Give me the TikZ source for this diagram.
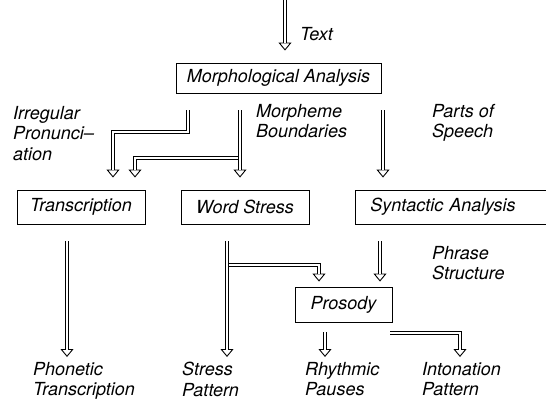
\documentclass[tikz,border=0pt]{standalone}
\usepackage{fontspec}
\setmainfont{TeX Gyre Heros}
\usetikzlibrary{arrows.meta,calc}
\newcommand\darrow[3]{%
  \draw[tipline, shorten <=#1, shorten >=#2] #3;
  \draw[shaft, shorten <=#1, shorten >=#2+7.2pt] #3;}
\begin{document}
\begin{tikzpicture}[x=1pt,y=-1pt,
  box/.style={draw, line width=0.9pt, inner sep=0pt, font=\fontsize{18}{20.5}\selectfont\itshape},
  lbl/.style={anchor=north west, inner sep=0pt, align=left, font=\fontsize{18}{20.5}\selectfont\itshape},
  tipline/.style={draw, line width=0.9pt, -{Triangle[open, length=8pt, width=13pt]}},
  shaft/.style={draw, double, double distance=2.8pt, line width=0.9pt},
]
\useasboundingbox (0,0) rectangle (546,400);
% boxes
\node[box, minimum width=205pt, minimum height=30pt] (morph) at (278.5,78) {Morphological Analysis};
\node[box, minimum width=128pt, minimum height=34pt] (trans) at (81,207) {Transcription};
\node[box, minimum width=128pt, minimum height=34pt] (wst) at (245,207) {Word Stress};
\node[box, anchor=west, text width=190pt, inner xsep=15pt, minimum height=34pt] (synt) at (355,207) {Syntactic Analysis};
\node[box, minimum width=97pt, minimum height=35pt] (pros) at (343.5,304.5) {Prosody};
% labels
\node[lbl] (ltext) at (300,27) {Text};
\node[lbl] (lirr) at (13,106) {Irregular\\Pronunci--\\ation};
\node[lbl] (lmorph) at (256,104) {Morpheme\\Boundaries};
\node[lbl] (lparts) at (432,104) {Parts of\\Speech};
\node[lbl] (lphrase) at (432,246) {Phrase\\Structure};
\node[lbl] (lphon) at (33,362) {Phonetic\\Transcription};
\node[lbl] (lstress) at (182,362) {Stress\\Pattern};
\node[lbl] (lrhy) at (305,362) {Rhythmic\\Pauses};
\node[lbl] (lint) at (422,362) {Intonation\\Pattern};
% helper coordinates
\coordinate (top) at (285,0);
\coordinate (xa) at (188,0);
\coordinate (ka) at (113,132);
\coordinate (xws) at (240,0);
\coordinate (b1) at (238.4,158);
\coordinate (xb1) at (135,0);
\coordinate (xsy) at (383,0);
\coordinate (xph) at (67,0);
\coordinate (xst) at (227,0);
\coordinate (b2) at (228.9,265);
\coordinate (xb2) at (319,0);
\coordinate (xsp) at (380,0);
\coordinate (xrh) at (325,0);
\coordinate (i1) at (390,333);
\coordinate (xin) at (460,0);
% connectors
\darrow{0pt}{12pt}{(top) -- (morph.north -| top)}
\darrow{17pt}{12pt}{(morph.south -| xa) |- (ka) -- (ka |- trans.north)}
\darrow{0pt}{12pt}{(b1) -| (xb1 |- trans.north)}
\darrow{17pt}{12pt}{(morph.south -| xws) -- (wst.north -| xws)}
\darrow{17pt}{12pt}{(morph.south -| xsy) -- (synt.north -| xsy)}
\darrow{17pt}{5pt}{(trans.south -| xph) -- (lphon.north -| xph)}
\darrow{0pt}{5pt}{(b2) -| (xb2 |- pros.north)}
\darrow{17pt}{5pt}{(wst.south -| xst) -- (lstress.north -| xst)}
\darrow{17pt}{5pt}{(synt.south -| xsp) -- (pros.north -| xsp)}
\darrow{10pt}{5pt}{(pros.south -| xrh) -- (lrhy.north -| xrh)}
\darrow{0pt}{5pt}{(i1) -| (xin |- lint.north)}
\end{tikzpicture}
\end{document}
